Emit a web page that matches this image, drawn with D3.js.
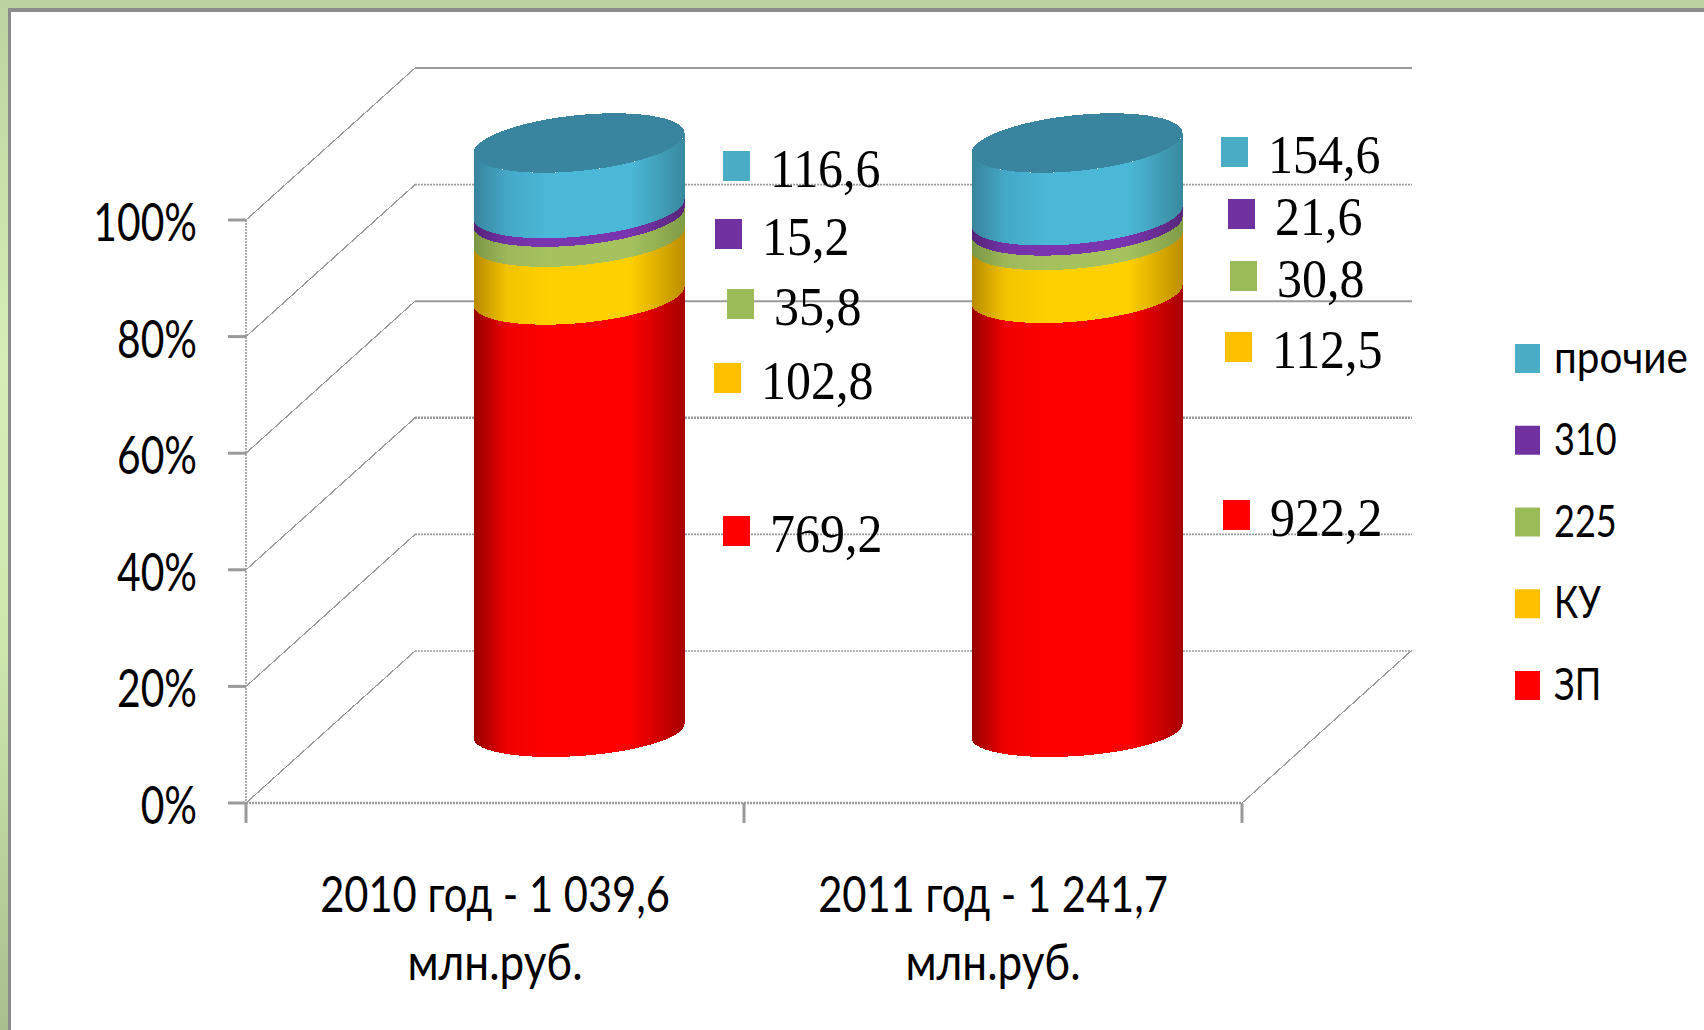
<!DOCTYPE html>
<html><head><meta charset="utf-8">
<script src="https://cdn.jsdelivr.net/npm/d3@7/dist/d3.min.js"></script>
<style>html,body{margin:0;padding:0;background:#fff;overflow:hidden}svg{display:block}</style>
</head><body><svg id="c" width="1704" height="1030"></svg>
<script>
const categories = ["2010 год - 1 039,6", "2011 год - 1 241,7"];
const unitLine = "млн.руб.";
const seriesNames = ["ЗП", "КУ", "225", "310", "прочие"];
const seriesZP = [769.2, 922.2];
const seriesKU = [102.8, 112.5];
const series225 = [35.8, 30.8];
const series310 = [15.2, 21.6];
const seriesOther = [116.6, 154.6];
const valueLabelsZP = ["769,2", "922,2"];
const valueLabelsKU = ["102,8", "112,5"];
const valueLabels225 = ["35,8", "30,8"];
const valueLabels310 = ["15,2", "21,6"];
const valueLabelsOther = ["116,6", "154,6"];
const yTicks = [0, 0.2, 0.4, 0.6, 0.8, 1];

const colors = ["#ff0000", "#ffc000", "#9bbb59", "#7030a0", "#4bacc6"];
const sideStops = [
  ["#960000", "#f00000", "#ff0000", "#ff0000", "#a80000"],
  ["#b88a00", "#f2c400", "#ffd000", "#ffd000", "#bd8f00"],
  ["#7a9643", "#9db85a", "#a5c25f", "#a5c25f", "#809d47"],
  ["#512376", "#7331a6", "#7a35ae", "#7a35ae", "#572679"],
  ["#37839b", "#45a8c7", "#4cb8d8", "#4cb8d8", "#398a9f"]
];
const topColor = "#39849f";

const all = [seriesZP, seriesKU, series225, series310, seriesOther];
const labelsAll = [valueLabelsZP, valueLabelsKU, valueLabels225, valueLabels310, valueLabelsOther];

const svg = d3.select("#c");
const defs = svg.append("defs");

// page frame
const bg = defs.append("linearGradient").attr("id", "bg").attr("x1", 0).attr("x2", 0).attr("y1", 0).attr("y2", 1);
[[0, "#bcd2a0"], [0.35, "#d6eeb6"], [0.62, "#cfe8ae"], [1, "#a9bf8f"]].forEach(s => bg.append("stop").attr("offset", s[0]).attr("stop-color", s[1]));
svg.append("rect").attr("width", 1704).attr("height", 1030).attr("fill", "url(#bg)");
svg.append("rect").attr("x", 8).attr("y", 8).attr("width", 1696).attr("height", 1022).attr("fill", "#8c8c8c");
svg.append("rect").attr("x", 11).attr("y", 12).attr("width", 1693).attr("height", 1018).attr("fill", "#fff");

// layout
const y = d3.scaleLinear().domain([0, 1]).range([803, 220]);
const x = d3.scaleBand().domain(categories).range([246, 1242]);
const depth = { dx: 169, dy: -152 };
const gridCol = "#9a9a9a";
const grid = svg.append("g");
yTicks.forEach((t, i) => {
  const py = y(t);
  // left wall diagonal, with the back wall line
  grid.append("line").attr("x1", x.range()[0]).attr("y1", py).attr("x2", x.range()[0] + depth.dx).attr("y2", py + depth.dy)
    .attr("stroke", gridCol).attr("stroke-width", 1.2).attr("shape-rendering", "crispEdges");
  const g = grid.append("line").attr("x1", x.range()[0] + depth.dx).attr("y1", py + depth.dy)
    .attr("x2", x.range()[1] + depth.dx + 1).attr("y2", py + depth.dy)
    .attr("stroke", gridCol).attr("stroke-width", [1.6, 1.6, 2.4, 2, 1.6, 2.2][i]);
  if (i === 0 || i === 1 || i === 2 || i === 4) g.attr("stroke-dasharray", "2 1");
  // tick mark
  grid.append("line").attr("x1", x.range()[0] - 18).attr("x2", x.range()[0]).attr("y1", py).attr("y2", py)
    .attr("stroke", gridCol).attr("stroke-width", 3);
  // tick label
  svg.append("text").attr("transform", `translate(197,${py + 21}) scale(0.8,1.04)`)
    .attr("text-anchor", "end").attr("font-family", "Lato").attr("font-size", 51).attr("fill", "#000")
    .text(d3.format(".0%")(t));
});
// wall edge, floor edges, category ticks
grid.append("line").attr("x1", 246).attr("x2", 246).attr("y1", y(1)).attr("y2", y(0))
  .attr("stroke", gridCol).attr("stroke-width", 1.6).attr("stroke-dasharray", "2 1");
grid.append("line").attr("x1", 246).attr("x2", 1242).attr("y1", y(0)).attr("y2", y(0))
  .attr("stroke", gridCol).attr("stroke-width", 2.4).attr("stroke-dasharray", "2 1");
grid.append("line").attr("x1", 1242).attr("y1", y(0)).attr("x2", 1242 + depth.dx).attr("y2", y(0) + depth.dy)
  .attr("stroke", gridCol).attr("stroke-width", 1.2).attr("shape-rendering", "crispEdges");
[0, 1, 2].forEach(i => {
  const px = x.range()[0] + i * x.bandwidth();
  grid.append("line").attr("x1", px).attr("x2", px).attr("y1", y(0)).attr("y2", y(0) + 20)
    .attr("stroke", gridCol).attr("stroke-width", 3);
});

// cylinders
const rx = 105.5;
const ryAt = d3.scaleLinear().domain([0, 1]).range([25, 28]);
const tiltAt = d3.scaleLinear().domain([0, 1]).range([-7, -10]);
const cyY = d3.scaleLinear().domain([0, 1]).range([731, 143]);
const cxOf = i => x(categories[i]) + x.bandwidth() / 2 + 84;
function arcPts(cx, share, from, to) {
  const cy = cyY(share), ry = ryAt(share), tilt = tiltAt(share);
  return d3.range(0, 61).map(k => {
    const t = from + (to - from) * k / 60;
    return [cx + rx * Math.cos(t), cy + ry * Math.sin(t) + tilt * Math.cos(t)];
  });
}
sideStops.forEach((s, i) => {
  const g = defs.append("linearGradient").attr("id", "side" + i);
  [0, 0.16, 0.36, 0.74, 1].forEach((o, k) => g.append("stop").attr("offset", o).attr("stop-color", s[k]));
});
const line = d3.line();
categories.forEach((c, ci) => {
  const total = d3.sum(all, a => a[ci]);
  let acc = 0;
  const cx = cxOf(ci);
  const g = svg.append("g").attr("shape-rendering", "crispEdges");
  all.forEach((a, si) => {
    const s0 = acc / total;
    acc += a[ci];
    const s1 = acc / total;
    const lower = arcPts(cx, s0, 0, Math.PI);
    const upper = arcPts(cx, s1, Math.PI, 0);
    g.append("path").attr("d", line(lower.concat(upper)) + "Z")
      .attr("fill", `url(#side${si})`);
  });
  g.append("path").attr("d", line(arcPts(cx, 1, 0, 2 * Math.PI)) + "Z").attr("fill", topColor);
});

// value labels: placement as laid out in the picture
const labelPlaceX = [[723, 1223], [714, 1225], [727, 1230], [715, 1228], [723, 1221]];
const labelPlaceY = [[516, 500], [363, 332], [289, 261], [219, 199], [151, 137]];
const labelGapX = 47;
const labels = svg.append("g");
all.forEach((a, si) => a.forEach((v, ci) => {
  const sx = labelPlaceX[si][ci], sy = labelPlaceY[si][ci];
  labels.append("rect").attr("x", sx).attr("y", sy).attr("width", 27).attr("height", 30).attr("fill", colors[si]);
  labels.append("text").attr("transform", `translate(${sx + labelGapX},${sy + 36}) scale(1.02,1.12)`)
    .attr("font-family", "Liberation Serif").attr("font-size", 49).attr("fill", "#000")
    .text(labelsAll[si][ci]);
}));

// category labels
categories.forEach(c => {
  const cx = x(c) + x.bandwidth() / 2;
  svg.append("text").attr("transform", `translate(${cx},912) scale(0.85,1.03)`).attr("text-anchor", "middle")
    .attr("font-family", "Lato").attr("font-size", 49).attr("fill", "#000").text(c);
  svg.append("text").attr("transform", `translate(${cx},980) scale(0.9,1.03)`).attr("text-anchor", "middle")
    .attr("font-family", "Lato").attr("font-size", 49).attr("fill", "#000").text(unitLine);
});

// legend
const legendY = d3.scalePoint().domain(seriesNames).range([685, 358]);
const legendStretch = [0.82, 0.82, 0.82, 0.82, 0.92];
seriesNames.forEach((n, i) => {
  const py = legendY(n);
  svg.append("rect").attr("x", 1515).attr("y", py - 14).attr("width", 25).attr("height", 29).attr("fill", colors[i]);
  svg.append("text").attr("transform", `translate(1554,${py + 15}) scale(${legendStretch[i]},1)`)
    .attr("font-family", "Lato").attr("font-size", 44).attr("fill", "#000").text(n);
});
</script></body></html>
